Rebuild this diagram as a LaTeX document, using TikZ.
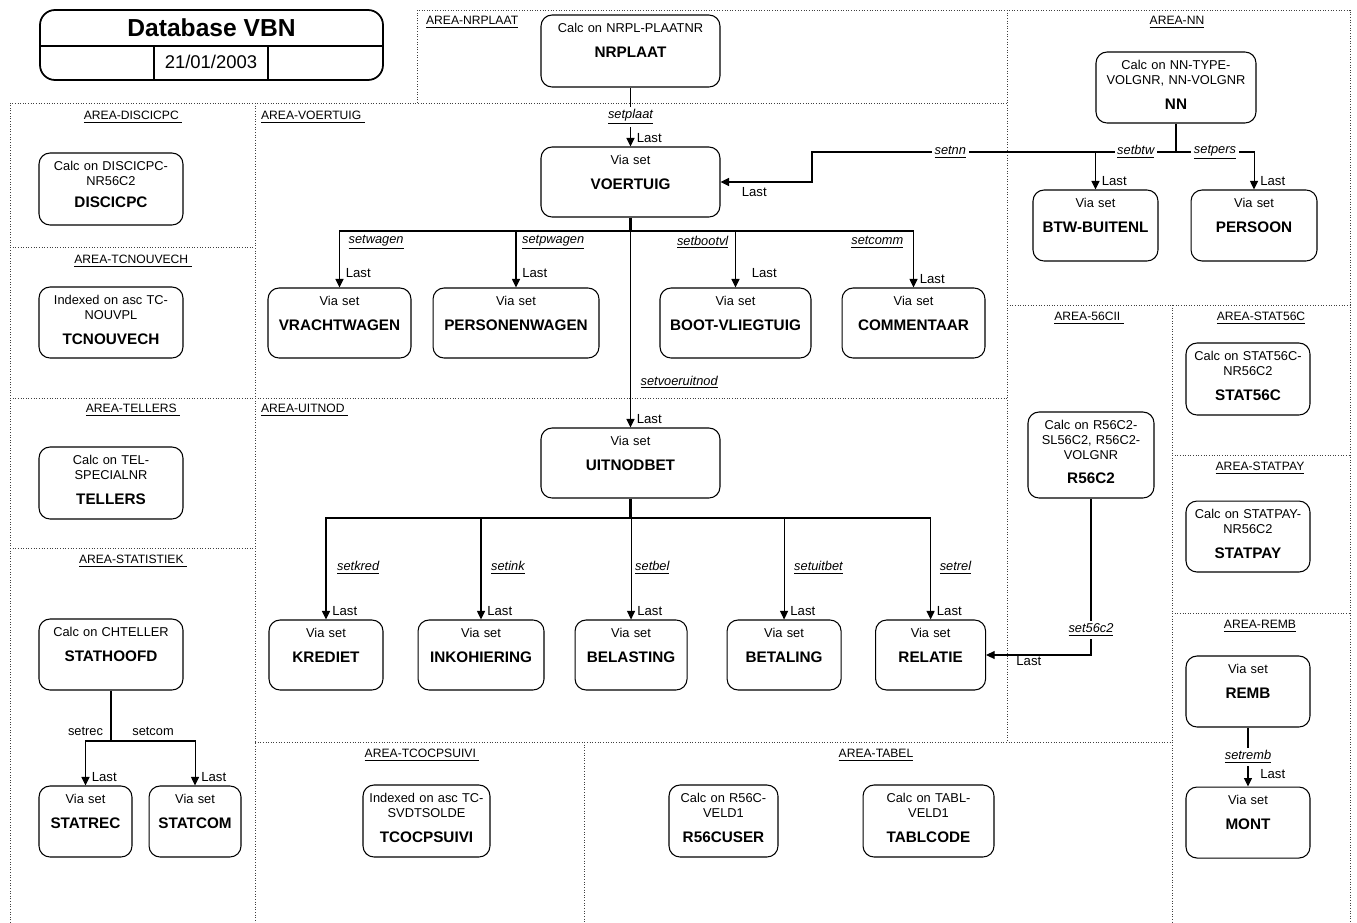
\documentclass[tikz,border=0pt]{standalone}
\usepackage{fontspec}
\setmainfont{Liberation Sans}
\usetikzlibrary{positioning, arrows.meta}

\newcommand{\recfont}{\fontsize{7.3}{8.5}\selectfont}
\newcommand{\recnamefont}{\fontsize{8.7}{8.5}\selectfont\bfseries}
\newcommand{\areatxtfont}{\fontsize{6.9}{8}\selectfont}
\newcommand{\setlblfont}{\fontsize{7.3}{8}\selectfont\itshape}
\newcommand{\lastfont}{\fontsize{7.5}{8}\selectfont}
\newcommand{\recname}[2][5.5pt]{\\[#1]{\recnamefont #2}}

\tikzset{
  recbox/.style={draw, line width=0.6pt, rounded corners=0.22cm, align=center,
    inner sep=0pt, font=\recfont, text height=0.35cm, text depth=1.05cm},
  arealine/.style={densely dotted, line width=0.5pt, black!75},
  arealbl/.style={font=\areatxtfont, inner sep=1pt},
  link/.style={line width=0.6pt, -{Triangle[length=1.7mm,width=1.6mm]}},
  trunk/.style={line width=1.2pt},
  setlbl/.style={font=\setlblfont, inner sep=1.5pt},
  plainlbl/.style={font=\recfont, inner sep=3pt},
  lastlbl/.style={font=\lastfont, inner sep=1pt, anchor=south west, xshift=0.08cm, yshift=0.04cm},
}

\begin{document}
\begin{tikzpicture}[x=0.02cm, y=-0.02cm]
  \useasboundingbox (0,0) rectangle (1357,923);
  \fill[white] (0,0) rectangle (1357,923);

  % areas
  \draw[arealine] (417,103) -- (417,10) -- (1350,10) -- (1350,923);
  \draw[arealine] (10,923) -- (10,103) -- (1007,103);
  \draw[arealine] (1007,10) -- (1007,742);
  \draw[arealine] (255,103) -- (255,923);
  \draw[arealine] (10,247) -- (255,247);
  \draw[arealine] (10,398) -- (1007,398);
  \draw[arealine] (10,548) -- (255,548);
  \draw[arealine] (255,742) -- (1172,742);
  \draw[arealine] (584,742) -- (584,923);
  \draw[arealine] (1007,305) -- (1350,305);
  \draw[arealine] (1172,305) -- (1172,923);
  \draw[arealine] (1172,455) -- (1350,455);
  \draw[arealine] (1172,613) -- (1350,613);

  \node[arealbl, anchor=west] (a-nrplaat) at (424,22) {\underline{AREA-NRPLAAT}};
  \node[arealbl] (a-nn) at (1177,22) {\underline{AREA-NN}};
  \node[arealbl] (a-discicpc) at (133,117) {\underline{AREA-DISCICPC\ }};
  \node[arealbl, anchor=west] (a-voertuig) at (259,117) {\underline{AREA-VOERTUIG\ }};
  \node[arealbl] (a-tcnouvech) at (133,261) {\underline{AREA-TCNOUVECH\ }};
  \node[arealbl] (a-tellers) at (133,410) {\underline{AREA-TELLERS\ }};
  \node[arealbl, anchor=west] (a-uitnod) at (259,410) {\underline{AREA-UITNOD\ }};
  \node[arealbl] (a-statistiek) at (133,561) {\underline{AREA-STATISTIEK\ }};
  \node[arealbl] (a-56cii) at (1089,318) {\underline{AREA-56CII\ }};
  \node[arealbl] (a-stat56c) at (1261,318) {\underline{AREA-STAT56C}};
  \node[arealbl] (a-statpay) at (1260,468) {\underline{AREA-STATPAY}};
  \node[arealbl] (a-remb) at (1260,626) {\underline{AREA-REMB}};
  \node[arealbl] (a-tcocpsuivi) at (422,755) {\underline{AREA-TCOCPSUIVI\ }};
  \node[arealbl] (a-tabel) at (876,755) {\underline{AREA-TABEL}};

  % title block
  \draw[line width=1pt, rounded corners=0.3cm] (40,10) rectangle (383,80);
  \draw[line width=1pt] (40,46) -- (383,46) (154,46) -- (154,80) (268,46) -- (268,80);
  \node[font=\fontsize{14}{16}\selectfont\bfseries] (title) at (211.5,28) {Database VBN};
  \node[font=\fontsize{10.5}{12}\selectfont] (date) at (211,62) {21/01/2003};

  % records
  \node[recbox, text width=3.58cm, text depth=1.09cm] (nrplaat) at (630.5,51) {Calc on NRPL-PLAATNR\recname{NRPLAAT}};
  \node[recbox, text width=3.58cm] (voertuig) at (630.5,182) {Via set\recname{VOERTUIG}};
  \node[recbox, text width=3.2cm, text depth=1.07cm] (nn) at (1176,87.5) {Calc on NN-TYPE-\\VOLGNR, NN-VOLGNR\recname{NN}};
  \node[recbox, text width=2.5cm, text depth=1.07cm] (btw) at (1095.5,225.5) {Via set\recname{BTW-BUITENL}};
  \node[recbox, text width=2.52cm, text depth=1.07cm, right=0.64cm of btw] (persoon) {Via set\recname{PERSOON}};

  \node[recbox, text width=2.86cm] (vrachtwagen) at (339.5,323) {Via set\recname{VRACHTWAGEN}};
  \node[recbox, text width=3.32cm, right=0.42cm of vrachtwagen] (personenwagen) {Via set\recname{PERSONENWAGEN}};
  \node[recbox, text width=3.02cm] (bootvl) at (735.5,323) {Via set\recname{BOOT-VLIEGTUIG}};
  \node[recbox, text width=2.86cm, right=0.6cm of bootvl] (commentaar) {Via set\recname{COMMENTAAR}};

  \node[recbox, text width=3.58cm] (uitnodbet) at (630.5,463) {Via set\recname{UITNODBET}};
  \node[recbox, text width=2.28cm] (krediet) at (326,655) {Via set\recname{KREDIET}};
  \node[recbox, text width=2.52cm, right=0.68cm of krediet] (inkohiering) {Via set\recname{INKOHIERING}};
  \node[recbox, text width=2.24cm, right=0.6cm of inkohiering] (belasting) {Via set\recname{BELASTING}};
  \node[recbox, text width=2.28cm, right=0.78cm of belasting] (betaling) {Via set\recname{BETALING}};
  \node[recbox, text width=2.2cm, right=0.67cm of betaling] (relatie) {Via set\recname{RELATIE}};

  \node[recbox, text width=2.52cm, text depth=1.37cm] (r56c2) at (1091,455) {Calc on R56C2-\\SL56C2, R56C2-\\VOLGNR\recname{R56C2}};
  \node[recbox, text width=2.48cm, text depth=1.09cm] (stat56c) at (1248,379) {Calc on STAT56C-\\NR56C2\recname{STAT56C}};
  \node[recbox, text width=2.48cm, text depth=1.07cm, below=1.7cm of stat56c] (statpay) {Calc on STATPAY-\\NR56C2\recname{STATPAY}};
  \node[recbox, text width=2.48cm, text depth=1.07cm] (remb) at (1248,691.5) {Via set\recname{REMB}};
  \node[recbox, text width=2.48cm, text depth=1.07cm, below=1.18cm of remb] (mont) {Via set\recname{MONT}};

  \node[recbox, text width=2.88cm, text depth=1.09cm] (discicpc) at (111,189) {Calc on DISCICPC-\\NR56C2\recname[4pt]{DISCICPC}};
  \node[recbox, text width=2.88cm, text depth=1.07cm] (tcnouvech) at (111,322.5) {Indexed on asc TC-\\NOUVPL\recname{TCNOUVECH}};
  \node[recbox, text width=2.88cm, text depth=1.09cm] (tellers) at (111,483) {Calc on TEL-\\SPECIALNR\recname{TELLERS}};
  \node[recbox, text width=2.88cm, text depth=1.07cm] (stathoofd) at (111,654.5) {Calc on CHTELLER\recname{STATHOOFD}};
  \node[recbox, text width=1.86cm, text depth=1.07cm] (statrec) at (85.5,821.5) {Via set\recname{STATREC}};
  \node[recbox, text width=1.84cm, text depth=1.07cm, right=0.32cm of statrec] (statcom) {Via set\recname{STATCOM}};

  \node[recbox, text width=2.54cm, text depth=1.09cm] (tcocpsuivi) at (426.5,821) {Indexed on asc TC-\\SVDTSOLDE\recname{TCOCPSUIVI}};
  \node[recbox, text width=2.18cm, text depth=1.09cm] (r56cuser) at (723.5,821) {Calc on R56C-\\VELD1\recname{R56CUSER}};
  \node[recbox, text width=2.62cm, text depth=1.09cm, right=1.68cm of r56cuser] (tablcode) {Calc on TABL-\\VELD1\recname{TABLCODE}};

  % sets
  \draw[link] (nrplaat) -- node[setlbl, fill=white] (l-plaat) {\underline{setplaat}}
    node[lastlbl, at end] (t-plaat) {Last} (voertuig);

  \coordinate (nnsplit) at (1176,152);
  \coordinate (nnbend) at (812,152);
  \draw[line width=0.6pt] (nn) -- (nnsplit);
  \draw[link] (nnsplit) -- node[setlbl, fill=white, pos=0.62] (l-nn) {\underline{setnn}} (nnbend)
    |- node[lastlbl, at end, anchor=north west, xshift=0.3cm, yshift=-0.1cm] (t-nn) {Last} (voertuig);
  \draw[link] (nnsplit) -| node[setlbl, fill=white, pos=0.25] (l-btw) {\underline{setbtw}}
    node[lastlbl, at end] (t-btw) {Last} (btw);
  \draw[link] (nnsplit) -| node[setlbl, fill=white, pos=0.25] (l-pers) {\underline{setpers}}
    node[lastlbl, at end] (t-pers) {Last} (persoon);

  \coordinate (vsplit) at (630.5,231);
  \draw[trunk] (voertuig) -- (vsplit);
  \draw[link] (vsplit) -| node[setlbl, pos=0.6, anchor=west, xshift=0.12cm] (l-wagen) {\underline{setwagen}}
    node[lastlbl, at end, yshift=0.12cm] (t-wagen) {Last} (vrachtwagen);
  \draw[link] (vsplit) -| node[setlbl, pos=0.6, anchor=west, xshift=0.06cm] (l-pwagen) {\underline{setpwagen}}
    node[lastlbl, at end, yshift=0.12cm] (t-pwagen) {Last} (personenwagen);
  \draw[link] (vsplit) -| node[setlbl, pos=0.6, anchor=east, xshift=-0.08cm] (l-bootvl) {\underline{setbootvl}}
    node[lastlbl, at end, xshift=0.2cm, yshift=0.12cm] (t-bootvl) {Last} (bootvl);
  \draw[link] (vsplit) -| node[setlbl, pos=0.6, anchor=east, xshift=-0.14cm] (l-comm) {\underline{setcomm}}
    node[lastlbl, at end] (t-comm) {Last} (commentaar);
  \draw[link] (vsplit) -- node[setlbl, pos=0.77, anchor=west, xshift=0.14cm] (l-voeruitnod) {\underline{setvoeruitnod}}
    node[lastlbl, at end] (t-voeruitnod) {Last} (uitnodbet);

  \coordinate (usplit) at (630.5,518);
  \draw[trunk] (uitnodbet) -- (usplit);
  \draw[link] (usplit) -| node[setlbl, pos=0.745, anchor=west, xshift=0.16cm] (l-kred) {\underline{setkred}}
    node[lastlbl, at end] (t-kred) {Last} (krediet);
  \draw[link] (usplit) -| node[setlbl, pos=0.745, anchor=west, xshift=0.14cm] (l-ink) {\underline{setink}}
    node[lastlbl, at end] (t-ink) {Last} (inkohiering);
  \draw[link] (usplit) -| node[setlbl, pos=0.745, anchor=west, xshift=0.02cm] (l-bel) {\underline{setbel}}
    node[lastlbl, at end] (t-bel) {Last} (belasting);
  \draw[link] (usplit) -| node[setlbl, pos=0.745, anchor=west, xshift=0.14cm] (l-uitbet) {\underline{setuitbet}}
    node[lastlbl, at end] (t-uitbet) {Last} (betaling);
  \draw[link] (usplit) -| node[setlbl, pos=0.745, anchor=west, xshift=0.12cm] (l-rel) {\underline{setrel}}
    node[lastlbl, at end] (t-rel) {Last} (relatie);

  \draw[link] (r56c2) |- node[setlbl, fill=white, pos=0.42] (l-56c2) {\underline{set56c2}}
    node[lastlbl, at end, anchor=north west, xshift=0.48cm, yshift=-0.02cm] (t-56c2) {Last} (relatie);

  \coordinate (ssplit) at (111,741);
  \draw[line width=0.6pt] (stathoofd) -- (ssplit);
  \draw[link] (ssplit) -| node[plainlbl, pos=0.5, anchor=south] (l-rec) {setrec}
    node[lastlbl, at end] (t-rec) {Last} (statrec);
  \draw[link] (ssplit) -| node[plainlbl, pos=0.25, anchor=south] (l-com) {setcom}
    node[lastlbl, at end] (t-com) {Last} (statcom);

  \draw[link] (remb) -- node[setlbl, fill=white] (l-remb) {\underline{setremb}}
    node[lastlbl, at end, xshift=0.12cm, yshift=0.08cm] (t-remb) {Last} (mont);
\end{tikzpicture}
\end{document}
